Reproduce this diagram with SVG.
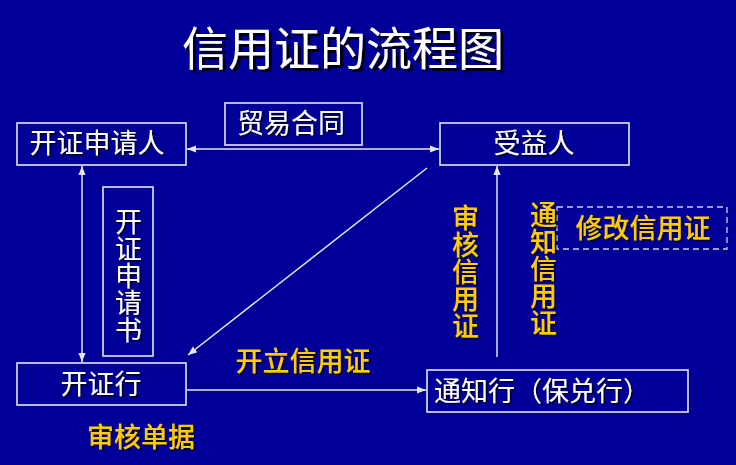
<svg xmlns="http://www.w3.org/2000/svg" width="736" height="465" viewBox="0 0 736 465">
<defs>
<style>
.bg{fill:#000099}
.box{fill:none;stroke:#e6e6e6;stroke-width:1.6}
.dash{fill:none;stroke:#d0d0e0;stroke-width:1.3;stroke-dasharray:6 4}
.ln{fill:none;stroke:#e6e6e6;stroke-width:1.5}
.w{fill:#ffffff;font-family:"Liberation Sans","Noto Sans CJK SC",sans-serif;font-size:27px;dominant-baseline:central;text-anchor:middle;filter:url(#sh)}
.y{fill:#ffcc00;font-family:"Liberation Sans","Noto Sans CJK SC",sans-serif;font-size:27px;font-weight:500;dominant-baseline:central;text-anchor:middle;filter:url(#sh)}
.v{writing-mode:vertical-rl;text-orientation:upright}
.t{fill:#ffffff;font-family:"Liberation Sans","Noto Sans CJK SC",sans-serif;font-size:46px;dominant-baseline:central;text-anchor:middle;filter:url(#sh2)}
</style>
<filter id="sh" x="-10%" y="-10%" width="130%" height="140%"><feDropShadow dx="1.5" dy="1.5" stdDeviation="0.3" flood-color="#000000" flood-opacity="0.8"/></filter>
<filter id="sh2" x="-10%" y="-10%" width="130%" height="140%"><feDropShadow dx="3" dy="3" stdDeviation="0.5" flood-color="#000000" flood-opacity="0.85"/></filter>
<marker id="ah" viewBox="0 0 10 10" refX="10" refY="5" markerWidth="9" markerHeight="9" markerUnits="userSpaceOnUse" orient="auto-start-reverse"><path d="M0,1 L10,5 L0,9 Z" fill="#e6e6e6"/></marker>
</defs>
<rect class="bg" x="0" y="0" width="736" height="465"/>
<text class="t" x="343" y="49">信用证的流程图</text>
<g id="connectors">
<line class="ln" x1="187" y1="149" x2="439" y2="149" marker-start="url(#ah)" marker-end="url(#ah)"/>
<line class="ln" x1="82" y1="166" x2="82" y2="362" marker-start="url(#ah)" marker-end="url(#ah)"/>
<line class="ln" x1="427" y1="168" x2="188" y2="355" marker-end="url(#ah)"/>
<line class="ln" x1="187" y1="390" x2="426" y2="390" marker-end="url(#ah)"/>
<line class="ln" x1="497" y1="357" x2="497" y2="166" marker-end="url(#ah)"/>
</g>
<g id="applicant"><rect class="box" x="17" y="123" width="169" height="42"/><text class="w" x="97" y="144">开证申请人</text></g>
<g id="contract"><rect class="box" x="225" y="103" width="137" height="42"/><text class="w" x="291" y="124">贸易合同</text></g>
<g id="beneficiary"><rect class="box" x="440" y="123" width="189" height="42"/><text class="w" x="534" y="144">受益人</text></g>
<g id="application"><rect class="box" x="103" y="187" width="50" height="169"/><text class="w v" x="126" y="276">开证申请书</text></g>
<g id="issuing-bank"><rect class="box" x="17" y="363" width="169" height="42"/><text class="w" x="101" y="385">开证行</text></g>
<g id="advising-bank"><rect class="box" x="427" y="370" width="261" height="42"/><text class="w" x="434" y="392" style="text-anchor:start">通知行（保兑行）</text></g>
<g id="amend"><rect class="dash" x="557" y="207" width="170" height="42"/><text class="y" x="643" y="229">修改信用证</text></g>
<g id="labels">
<text class="y" x="303" y="362">开立信用证</text>
<text class="y" x="141" y="438">审核单据</text>
<text class="y v" x="463" y="272">审核信用证</text>
<text class="y v" x="541" y="269">通知信用证</text>
</g>
</svg>
